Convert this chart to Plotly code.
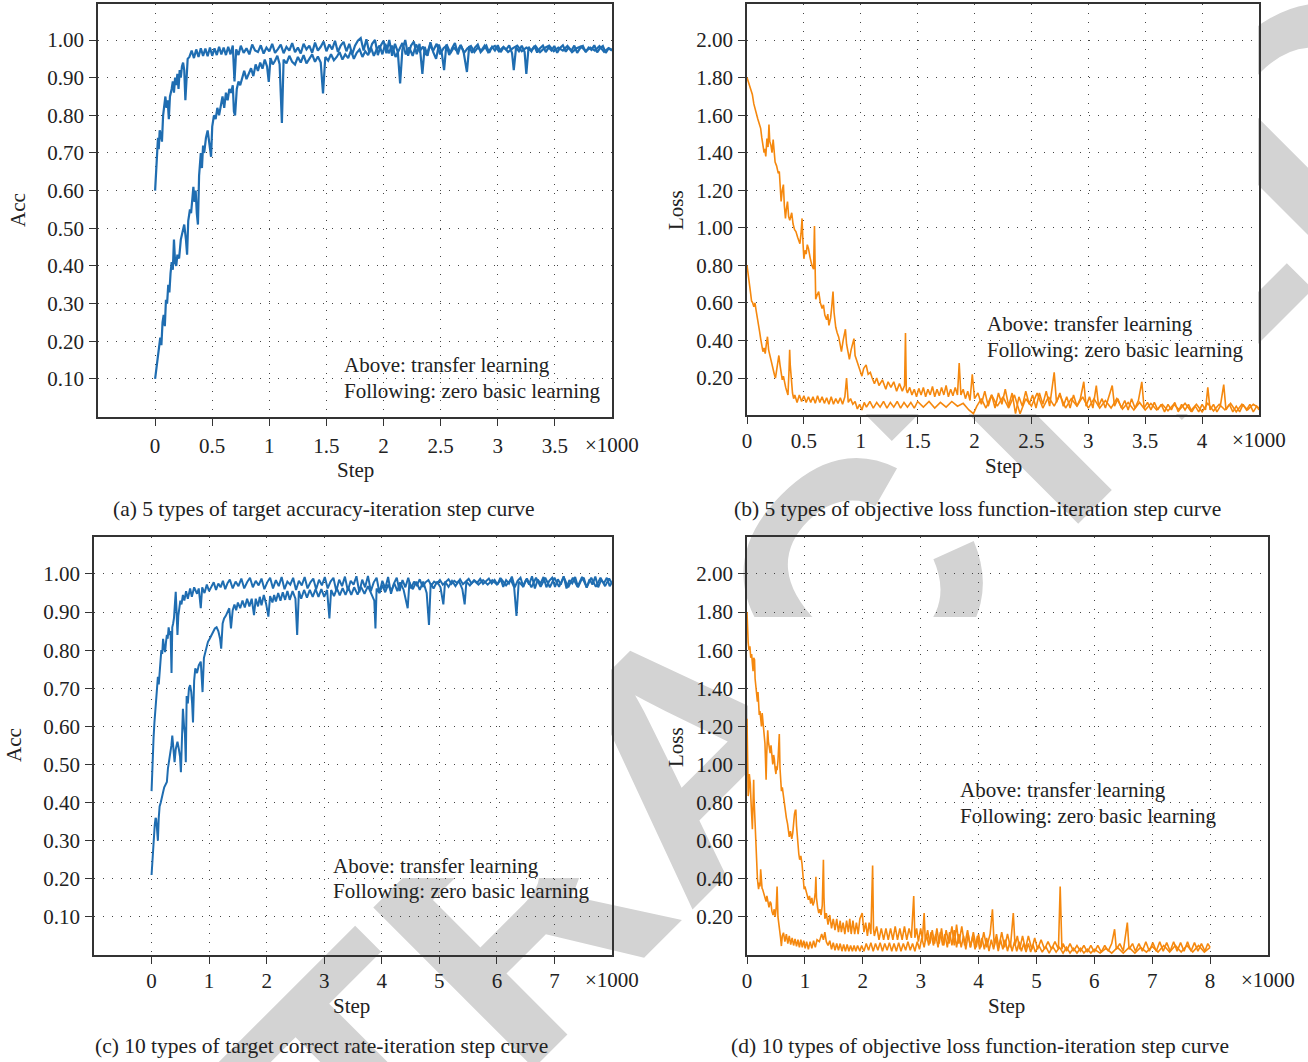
import base64
import plotly.graph_objects as go

W, H = 1308, 1062

# ---------------- data (steps in thousands) ----------------
a_transfer = [(0.000,0.60),(0.010,0.66),(0.016,0.70),(0.025,0.74),(0.032,0.71),(0.040,0.76),(0.050,0.75),(0.060,0.73),(0.070,0.80),(0.080,0.83),(0.090,0.85),(0.100,0.82),(0.110,0.84),(0.120,0.79),(0.130,0.85),(0.145,0.87),(0.155,0.89),(0.165,0.86),(0.175,0.90),(0.185,0.88),(0.195,0.91),(0.205,0.87),(0.215,0.92),(0.225,0.90),(0.235,0.93),(0.245,0.94),(0.255,0.92),(0.265,0.84),(0.275,0.91),(0.285,0.95),
    (0.300,0.955),(0.320,0.972),(0.340,0.952),(0.360,0.975),(0.380,0.955),(0.400,0.978),(0.420,0.958),(0.440,0.977),(0.460,0.957),(0.480,0.98),(0.500,0.958),(0.520,0.978),(0.540,0.96),(0.560,0.982),(0.580,0.962),(0.600,0.98),(0.620,0.96),(0.640,0.982),(0.660,0.962),(0.680,0.985),(0.695,0.89),(0.710,0.975),(0.730,0.96),
    (0.750,0.985),(0.775,0.966),(0.800,0.978),(0.825,0.962),(0.850,0.988),(0.875,0.972),(0.900,0.968),(0.925,0.986),(0.950,0.964),(0.975,0.980),(1.000,0.970),(1.025,0.990),(1.050,0.966),(1.075,0.976),(1.100,0.988),(1.125,0.965),(1.150,0.982),(1.175,0.972),(1.200,0.992),(1.225,0.968),(1.250,0.980),(1.275,0.964),(1.300,0.990),(1.325,0.975),(1.350,0.985),(1.375,0.966),(1.400,0.993),(1.425,0.972),(1.450,0.982),(1.475,0.996),(1.500,0.970),(1.525,0.988),(1.550,0.975),(1.575,0.998),(1.600,0.968),(1.625,0.985),(1.650,0.995),(1.675,0.970),(1.700,0.990),(1.725,0.962),(1.750,0.985),(1.775,0.998),(1.800,1.005),(1.825,0.972),(1.850,1.002),(1.875,0.966),(1.900,0.990),(1.925,1.000),(1.950,0.960),(1.975,0.985),(2.000,0.998),(2.025,0.965),(2.050,1.000),(2.075,0.958),(2.100,0.990),(2.125,0.968),(2.145,0.885),(2.165,0.975),(2.190,1.000),(2.215,0.958),(2.240,0.985),(2.265,0.996),(2.290,0.962),(2.315,0.990),(2.340,0.910),(2.360,0.982),(2.385,0.958),(2.410,0.994),(2.435,0.968),(2.460,0.950),(2.485,0.988),(2.510,0.965),(2.530,0.920),(2.550,0.988),(2.575,0.960),(2.600,0.978),(2.625,0.992),(2.650,0.962),(2.675,0.986),(2.700,0.970),(2.730,0.915),(2.750,0.984),(2.775,0.966),(2.800,0.980),(2.825,0.988),(2.850,0.968),(2.875,0.978),(2.900,0.985),(2.925,0.966),(2.950,0.982),(2.975,0.972),(3.000,0.986),(3.025,0.968),(3.050,0.980),(3.075,0.975),(3.100,0.986),(3.125,0.965),(3.140,0.920),(3.160,0.980),(3.185,0.970),(3.210,0.985),(3.235,0.968),(3.250,0.910),(3.270,0.982),(3.295,0.970),(3.320,0.984),(3.345,0.967),(3.370,0.978),(3.395,0.985),(3.420,0.968),(3.445,0.980),(3.470,0.972),(3.495,0.984),(3.520,0.966),(3.545,0.979),(3.570,0.986),(3.595,0.969),(3.620,0.980),(3.645,0.972),(3.670,0.985),(3.695,0.966),(3.720,0.978),(3.745,0.984),(3.770,0.968),(3.795,0.980),(3.820,0.974),(3.845,0.986),(3.870,0.967),(3.895,0.978),(3.920,0.984),(3.945,0.966),(3.970,0.978),(4.000,0.972)]

a_zero = [(0.000,0.10),(0.015,0.14),(0.030,0.18),(0.045,0.21),(0.055,0.19),(0.065,0.25),(0.075,0.27),(0.085,0.24),(0.095,0.31),(0.105,0.30),(0.115,0.35),(0.125,0.33),(0.135,0.38),(0.145,0.41),(0.155,0.39),(0.165,0.47),(0.175,0.41),(0.185,0.40),(0.195,0.43),(0.210,0.42),(0.225,0.47),(0.240,0.49),(0.255,0.51),(0.270,0.47),(0.280,0.43),(0.290,0.52),(0.305,0.55),(0.315,0.54),(0.325,0.58),(0.335,0.61),(0.345,0.57),(0.355,0.60),(0.365,0.54),(0.375,0.51),(0.385,0.64),(0.400,0.70),(0.410,0.66),(0.420,0.72),(0.430,0.70),(0.445,0.74),(0.460,0.76),(0.475,0.73),(0.490,0.69),(0.500,0.77),(0.515,0.80),(0.530,0.79),(0.545,0.82),(0.560,0.80),(0.575,0.83),(0.590,0.85),(0.605,0.82),(0.620,0.86),(0.635,0.84),(0.650,0.87),(0.665,0.86),(0.680,0.88),(0.690,0.81),(0.700,0.80),(0.715,0.87),(0.730,0.89),(0.745,0.88),
    (0.760,0.900),(0.780,0.918),(0.800,0.896),(0.820,0.912),(0.840,0.925),(0.860,0.904),(0.880,0.935),(0.900,0.918),(0.920,0.940),(0.940,0.924),(0.960,0.948),(0.980,0.930),(0.995,0.889),(1.010,0.952),(1.030,0.935),(1.050,0.945),(1.070,0.958),(1.090,0.936),(1.110,0.780),(1.125,0.948),(1.150,0.938),(1.175,0.958),(1.200,0.942),(1.225,0.935),(1.250,0.955),(1.275,0.940),(1.300,0.960),(1.325,0.938),(1.350,0.950),(1.375,0.962),(1.400,0.942),(1.425,0.956),(1.450,0.940),(1.470,0.858),(1.490,0.955),(1.515,0.945),(1.540,0.962),(1.565,0.946),(1.590,0.955),(1.615,0.968),(1.640,0.948),(1.665,0.962),(1.690,0.952),(1.715,0.972),(1.740,0.950),(1.765,0.966),(1.790,0.975),(1.815,0.955),(1.840,0.970),(1.865,0.960),(1.890,0.980),(1.915,0.958),(1.940,0.975),(1.965,0.985),(1.990,0.962),
    (2.015,0.990),(2.045,0.965),(2.075,0.985),(2.105,0.955),(2.135,0.975),(2.165,0.992),(2.195,0.962),(2.225,0.980),(2.255,0.958),(2.285,0.988),(2.315,0.970),(2.345,0.982),(2.375,0.960),(2.405,0.985),(2.435,0.972),(2.465,0.990),(2.495,0.962),(2.525,0.978),(2.555,0.986),(2.585,0.965),(2.615,0.980),(2.645,0.970),(2.675,0.987),(2.705,0.966),(2.735,0.978),(2.765,0.984),(2.795,0.968),(2.825,0.980),(2.855,0.972),(2.885,0.985),(2.915,0.968),(2.945,0.979),(2.975,0.984),(3.010,0.970),(3.050,0.982),(3.090,0.968),(3.130,0.978),(3.170,0.985),(3.210,0.970),(3.250,0.980),(3.290,0.972),(3.330,0.984),(3.370,0.968),(3.410,0.979),(3.450,0.985),(3.490,0.970),(3.530,0.980),(3.570,0.972),(3.610,0.984),(3.650,0.968),(3.690,0.978),(3.730,0.983),(3.770,0.970),(3.810,0.980),(3.850,0.972),(3.890,0.984),(3.930,0.969),(3.970,0.978),(4.000,0.974)]

b_transfer = [(0.000,0.80),(0.010,0.74),(0.020,0.70),(0.030,0.66),(0.040,0.61),(0.050,0.60),(0.060,0.58),(0.070,0.60),(0.080,0.56),(0.090,0.53),(0.100,0.50),(0.110,0.45),(0.120,0.41),(0.130,0.37),(0.140,0.34),(0.150,0.36),(0.160,0.33),(0.170,0.38),(0.180,0.42),(0.190,0.35),(0.200,0.32),(0.210,0.30),(0.220,0.28),(0.230,0.25),(0.240,0.22),(0.250,0.20),(0.260,0.24),(0.270,0.28),(0.280,0.32),(0.290,0.27),(0.300,0.22),(0.310,0.19),(0.320,0.21),(0.330,0.17),(0.340,0.15),(0.350,0.13),(0.360,0.11),(0.370,0.25),(0.375,0.35),(0.380,0.27),(0.390,0.18),(0.400,0.12),(0.410,0.09),(0.420,0.11),(0.440,0.07),(0.460,0.11),(0.480,0.075),(0.500,0.105),(0.520,0.07),(0.540,0.10),(0.560,0.07),(0.580,0.10),(0.600,0.065),(0.620,0.105),(0.640,0.07),(0.660,0.10),(0.680,0.065),(0.700,0.095),(0.720,0.06),(0.740,0.10),(0.760,0.06),(0.780,0.09),(0.800,0.065),(0.820,0.095),(0.840,0.06),(0.860,0.10),(0.875,0.20),(0.890,0.07),(0.910,0.09),(0.930,0.06),(0.950,0.075),(0.970,0.035),(0.990,0.06),(1.010,0.03),(1.030,0.07),(1.050,0.045),(1.080,0.075),(1.110,0.04),(1.140,0.07),(1.170,0.045),(1.200,0.075),(1.230,0.04),(1.260,0.07),(1.290,0.045),(1.320,0.075),(1.350,0.04),(1.380,0.07),(1.410,0.045),(1.440,0.07),(1.470,0.04),(1.500,0.075),(1.550,0.045),(1.600,0.075),(1.650,0.04),(1.700,0.07),(1.750,0.045),(1.800,0.075),(1.850,0.05),(1.900,0.065),(1.950,0.03),(1.990,0.01),
    (2.02,0.05),(2.06,0.09),(2.10,0.04),(2.15,0.11),(2.20,0.05),(2.25,0.10),(2.30,0.04),(2.35,0.11),(2.40,0.01),(2.45,0.09),(2.50,0.05),(2.55,0.12),(2.60,0.04),(2.65,0.10),(2.70,0.05),(2.75,0.11),(2.80,0.04),(2.85,0.09),(2.90,0.05),(2.95,0.10),(3.00,0.04),(3.05,0.09),(3.10,0.04),(3.15,0.08),(3.20,0.04),(3.25,0.09),(3.30,0.035),(3.35,0.07),(3.40,0.03),(3.45,0.07),(3.50,0.03),(3.55,0.065),(3.60,0.03),(3.65,0.06),(3.70,0.025),(3.75,0.06),(3.80,0.03),(3.85,0.065),(3.90,0.025),(3.95,0.06),(4.00,0.02),(4.05,0.065),(4.10,0.025),(4.15,0.06),(4.20,0.03),(4.25,0.065),(4.30,0.02),(4.35,0.06),(4.40,0.03),(4.45,0.06),(4.50,0.04)]

b_zero = [(0.000,1.80),(0.015,1.77),(0.030,1.74),(0.047,1.71),(0.060,1.66),(0.075,1.62),(0.084,1.61),(0.095,1.58),(0.105,1.56),(0.120,1.53),(0.130,1.48),(0.140,1.44),(0.150,1.40),(0.156,1.42),(0.165,1.38),(0.175,1.475),(0.185,1.43),(0.193,1.55),(0.200,1.46),(0.210,1.44),(0.220,1.40),(0.230,1.47),(0.240,1.38),(0.247,1.35),(0.260,1.33),(0.275,1.29),(0.284,1.30),(0.292,1.20),(0.300,1.14),(0.310,1.20),(0.320,1.23),(0.328,1.12),(0.338,1.05),(0.346,1.10),(0.356,1.14),(0.366,1.06),(0.376,1.04),(0.393,1.08),(0.405,1.02),(0.418,0.99),(0.430,0.98),(0.445,0.95),(0.458,0.93),(0.465,0.915),(0.475,0.97),(0.484,1.05),(0.492,0.92),(0.500,0.835),(0.510,0.88),(0.520,0.86),(0.530,0.91),(0.540,0.89),(0.555,0.84),(0.570,0.80),(0.585,0.78),(0.593,1.01),(0.600,0.75),(0.604,0.62),(0.615,0.64),(0.630,0.66),(0.645,0.60),(0.660,0.57),(0.672,0.59),(0.684,0.535),(0.700,0.51),(0.710,0.54),(0.720,0.48),(0.735,0.52),(0.745,0.58),(0.756,0.66),(0.765,0.55),(0.780,0.47),(0.793,0.44),(0.805,0.42),(0.818,0.38),(0.830,0.34),(0.845,0.40),(0.865,0.46),(0.875,0.38),(0.890,0.33),(0.900,0.30),(0.915,0.35),(0.930,0.38),(0.940,0.41),(0.950,0.32),(0.965,0.29),(0.975,0.27),(0.990,0.24),(1.010,0.21),(1.025,0.25),(1.047,0.27),(1.065,0.22),(1.084,0.23),(1.100,0.20),(1.120,0.17),(1.140,0.20),(1.160,0.16),(1.190,0.19),(1.220,0.14),(1.240,0.18),(1.265,0.15),(1.290,0.18),(1.315,0.13),(1.340,0.17),(1.365,0.13),(1.385,0.16),(1.393,0.44),(1.400,0.14),
    (1.410,0.12),(1.430,0.15),(1.450,0.11),(1.470,0.14),(1.490,0.10),(1.510,0.145),(1.530,0.11),(1.550,0.15),(1.570,0.10),(1.590,0.14),(1.610,0.11),(1.630,0.155),(1.650,0.10),(1.670,0.14),(1.690,0.105),(1.710,0.15),(1.730,0.11),(1.750,0.16),(1.770,0.10),(1.790,0.14),(1.810,0.105),(1.830,0.15),(1.850,0.11),(1.865,0.28),(1.880,0.11),(1.900,0.14),(1.920,0.09),(1.940,0.13),(1.960,0.08),(1.980,0.22),(2.000,0.09),
    (2.03,0.12),(2.06,0.06),(2.09,0.13),(2.12,0.05),(2.15,0.11),(2.18,0.04),(2.21,0.12),(2.24,0.06),(2.27,0.14),(2.30,0.05),(2.33,0.12),(2.36,0.01),(2.39,0.10),(2.42,0.05),(2.45,0.13),(2.48,0.06),(2.51,0.11),(2.54,0.04),(2.57,0.12),(2.60,0.06),(2.63,0.13),(2.66,0.05),(2.70,0.23),(2.72,0.07),(2.75,0.12),(2.78,0.05),(2.81,0.10),(2.84,0.04),(2.87,0.11),(2.90,0.05),(2.93,0.09),(2.96,0.18),(2.98,0.05),(3.01,0.10),(3.04,0.04),(3.07,0.16),(3.09,0.05),(3.12,0.09),(3.15,0.04),(3.18,0.10),(3.21,0.16),(3.23,0.05),(3.26,0.09),(3.29,0.04),(3.32,0.08),(3.35,0.03),(3.38,0.09),(3.41,0.04),(3.44,0.08),(3.47,0.18),(3.49,0.04),(3.52,0.07),(3.55,0.03),(3.58,0.07),(3.61,0.03),(3.64,0.06),(3.67,0.02),(3.70,0.06),(3.73,0.03),(3.76,0.07),(3.79,0.02),(3.82,0.06),(3.85,0.03),(3.88,0.06),(3.91,0.02),(3.94,0.05),(3.97,0.02),(4.00,0.06),(4.03,0.03),(4.05,0.15),(4.07,0.03),(4.10,0.06),(4.13,0.02),(4.16,0.05),(4.19,0.165),(4.21,0.03),(4.24,0.06),(4.27,0.02),(4.30,0.05),(4.33,0.02),(4.36,0.06),(4.39,0.03),(4.42,0.06),(4.45,0.02),(4.48,0.05),(4.50,0.03)]

c_transfer = [(0.000,0.43),(0.010,0.48),(0.020,0.52),(0.035,0.57),(0.050,0.61),(0.065,0.64),(0.080,0.66),(0.095,0.70),(0.110,0.73),(0.125,0.71),(0.140,0.75),(0.155,0.78),(0.170,0.80),(0.185,0.79),(0.200,0.83),(0.215,0.81),(0.235,0.795),(0.250,0.82),(0.266,0.84),(0.280,0.83),(0.297,0.86),(0.315,0.84),(0.330,0.85),(0.347,0.74),(0.360,0.86),(0.375,0.87),(0.390,0.885),(0.405,0.92),(0.420,0.953),(0.435,0.90),(0.450,0.84),(0.465,0.89),(0.480,0.91),(0.500,0.93),(0.520,0.92),(0.545,0.945),(0.570,0.93),(0.600,0.955),(0.630,0.935),(0.670,0.962),(0.700,0.94),(0.740,0.965),(0.790,0.948),
    (0.820,0.962),(0.855,0.910),(0.880,0.965),(0.920,0.950),(0.960,0.972),(1.000,0.955),(1.040,0.968),(1.080,0.978),(1.120,0.958),(1.160,0.975),(1.200,0.965),(1.240,0.982),(1.280,0.960),(1.320,0.976),(1.360,0.985),(1.410,0.962),(1.460,0.980),(1.510,0.968),(1.560,0.988),(1.610,0.962),(1.660,0.978),(1.710,0.990),(1.760,0.965),(1.810,0.982),(1.860,0.970),(1.910,0.988),(1.960,0.960),(2.010,0.978),(2.060,0.990),(2.110,0.962),(2.160,0.984),(2.210,0.968),(2.260,0.992),(2.310,0.960),(2.360,0.980),(2.410,0.972),(2.460,0.990),(2.510,0.958),(2.560,0.982),(2.610,0.970),(2.660,0.992),(2.710,0.962),(2.760,0.978),(2.810,0.988),(2.860,0.960),(2.910,0.985),(2.960,0.970),(3.010,0.992),(3.060,0.962),(3.110,0.980),(3.160,0.990),(3.210,0.955),(3.260,0.985),(3.310,0.968),(3.360,0.993),(3.410,0.956),(3.460,0.982),(3.510,0.972),(3.560,0.994),(3.610,0.952),(3.660,0.985),(3.710,0.965),(3.760,0.995),(3.810,0.955),(3.860,0.978),(3.910,0.990),(3.960,0.950),(4.010,0.982),(4.060,0.962),(4.110,0.992),(4.160,0.948),(4.210,0.975),(4.260,0.990),(4.310,0.955),(4.360,0.984),(4.410,0.965),(4.460,0.990),(4.510,0.962),(4.560,0.980),(4.610,0.970),(4.660,0.986),(4.710,0.966),(4.760,0.978),(4.810,0.984),(4.860,0.970),(4.910,0.980),(4.960,0.975),(5.010,0.984),(5.060,0.972),(5.110,0.980),(5.160,0.986),(5.210,0.974),(5.260,0.982),(5.310,0.976),(5.360,0.986),(5.410,0.973),(5.460,0.981),(5.510,0.987),(5.560,0.975),(5.610,0.983),(5.660,0.977),(5.710,0.987),(5.760,0.974),(5.810,0.982),(5.860,0.988),(5.910,0.975),(5.960,0.984),(6.010,0.972),(6.060,0.990),(6.110,0.966),(6.160,0.984),(6.210,0.975),(6.260,0.993),(6.310,0.965),(6.360,0.982),(6.410,0.990),(6.460,0.966),(6.510,0.986),(6.560,0.972),(6.610,0.994),(6.660,0.962),(6.710,0.985),(6.760,0.975),(6.810,0.992),(6.860,0.965),(6.910,0.982),(6.960,0.990),(7.010,0.966),(7.060,0.986),(7.110,0.972),(7.160,0.994),(7.210,0.962),(7.260,0.984),(7.310,0.975),(7.360,0.992),(7.410,0.965),(7.460,0.982),(7.510,0.990),(7.560,0.964),(7.610,0.986),(7.660,0.972),(7.710,0.993),(7.760,0.965),(7.810,0.984),(7.860,0.976),(7.910,0.990),(7.960,0.968),(8.000,0.978)]

c_zero = [(0.000,0.21),(0.015,0.25),(0.030,0.29),(0.040,0.30),(0.055,0.34),(0.070,0.36),(0.080,0.357),(0.095,0.33),(0.110,0.30),(0.125,0.36),(0.140,0.39),(0.160,0.40),(0.180,0.42),(0.200,0.427),(0.220,0.44),(0.245,0.45),(0.266,0.454),(0.285,0.49),(0.305,0.51),(0.330,0.524),(0.345,0.55),(0.360,0.576),(0.380,0.53),(0.400,0.506),(0.420,0.54),(0.450,0.56),(0.475,0.54),(0.495,0.52),(0.510,0.48),(0.525,0.58),(0.545,0.646),(0.565,0.60),(0.580,0.58),(0.595,0.506),(0.610,0.68),(0.630,0.66),(0.650,0.70),(0.670,0.708),(0.690,0.69),(0.705,0.66),(0.720,0.61),(0.740,0.72),(0.760,0.752),(0.790,0.74),(0.820,0.76),(0.855,0.77),(0.870,0.74),(0.886,0.69),(0.910,0.78),(0.940,0.80),(0.960,0.81),(0.980,0.822),(1.010,0.83),(1.040,0.84),(1.070,0.85),(1.100,0.857),(1.130,0.86),(1.160,0.85),(1.190,0.83),(1.210,0.804),(1.235,0.87),(1.260,0.883),(1.290,0.89),(1.320,0.90),(1.350,0.91),(1.380,0.857),(1.410,0.905),(1.440,0.92),(1.470,0.905),(1.500,0.925),(1.540,0.91),(1.580,0.93),(1.620,0.912),(1.660,0.935),(1.700,0.915),(1.740,0.935),(1.780,0.892),(1.810,0.935),(1.850,0.915),(1.880,0.94),(1.910,0.918),(1.950,0.945),(1.990,0.922),(2.030,0.888),(2.060,0.942),(2.100,0.925),(2.130,0.945),(2.160,0.928),(2.200,0.95),(2.240,0.93),(2.280,0.952),(2.320,0.932),(2.360,0.955),(2.400,0.932),(2.450,0.955),(2.500,0.935),(2.530,0.84),(2.560,0.955),(2.600,0.935),(2.650,0.958),(2.700,0.938),(2.750,0.958),(2.800,0.94),(2.850,0.96),(2.900,0.94),(2.950,0.96),(3.000,0.94),(3.050,0.958),(3.090,0.883),(3.120,0.958),(3.170,0.942),(3.220,0.962),(3.270,0.944),(3.320,0.963),(3.370,0.945),(3.420,0.964),(3.470,0.945),(3.520,0.965),(3.580,0.946),(3.640,0.966),(3.700,0.948),(3.760,0.968),(3.820,0.948),(3.870,0.93),(3.890,0.857),(3.910,0.962),(3.960,0.95),(4.010,0.97),(4.060,0.952),(4.110,0.972),(4.160,0.955),(4.220,0.975),(4.270,0.955),(4.320,0.978),(4.380,0.958),(4.450,0.91),(4.480,0.978),(4.540,0.96),(4.600,0.98),(4.660,0.958),(4.720,0.98),(4.780,0.95),(4.820,0.866),(4.850,0.975),(4.900,0.962),(4.960,0.98),(5.020,0.965),(5.070,0.92),(5.100,0.98),(5.160,0.966),(5.220,0.982),(5.280,0.968),(5.340,0.982),(5.400,0.96),(5.440,0.92),(5.470,0.98),(5.530,0.97),(5.600,0.983),(5.680,0.972),(5.760,0.984),(5.840,0.972),(5.920,0.984),(6.000,0.972),(6.080,0.986),(6.160,0.97),(6.240,0.985),(6.300,0.965),(6.340,0.89),(6.380,0.98),(6.450,0.968),(6.520,0.988),(6.600,0.965),(6.680,0.99),(6.760,0.966),(6.840,0.99),(6.920,0.965),(7.000,0.99),(7.080,0.966),(7.160,0.992),(7.240,0.965),(7.320,0.99),(7.400,0.966),(7.480,0.992),(7.560,0.965),(7.640,0.99),(7.720,0.966),(7.800,0.99),(7.880,0.968),(7.950,0.988),(8.000,0.975)]

d_transfer = [(0.000,1.24),(0.008,1.05),(0.015,0.88),(0.020,0.834),(0.030,0.86),(0.040,0.95),(0.050,0.92),(0.057,0.90),(0.070,0.80),(0.080,0.72),(0.093,0.66),(0.105,0.80),(0.115,0.92),(0.122,0.82),(0.130,0.75),(0.145,0.62),(0.155,0.55),(0.165,0.48),(0.180,0.40),(0.190,0.37),(0.200,0.345),(0.215,0.38),(0.225,0.36),(0.236,0.45),(0.250,0.37),(0.260,0.35),(0.270,0.345),(0.290,0.32),(0.310,0.30),(0.330,0.28),(0.343,0.31),(0.360,0.27),(0.380,0.25),(0.400,0.28),(0.415,0.27),(0.430,0.23),(0.450,0.21),(0.470,0.24),(0.487,0.20),(0.505,0.25),(0.520,0.36),(0.535,0.20),(0.550,0.17),(0.565,0.12),(0.580,0.09),(0.594,0.047),(0.610,0.10),(0.630,0.117),(0.655,0.07),(0.680,0.11),(0.705,0.06),(0.730,0.10),(0.755,0.055),(0.780,0.09),(0.805,0.05),(0.830,0.085),(0.855,0.045),(0.880,0.08),(0.905,0.04),(0.930,0.08),(0.955,0.04),(0.980,0.075),(1.005,0.035),(1.030,0.07),(1.060,0.03),(1.090,0.07),(1.120,0.035),(1.150,0.075),(1.180,0.04),(1.210,0.08),(1.250,0.07),(1.290,0.11),(1.320,0.08),(1.345,0.12),(1.370,0.07),(1.400,0.05),(1.430,0.075),(1.460,0.03),(1.490,0.065),(1.520,0.025),(1.550,0.06),(1.580,0.025),(1.610,0.06),(1.640,0.02),(1.670,0.055),(1.700,0.02),(1.730,0.055),(1.760,0.02),(1.790,0.05),(1.820,0.02),(1.850,0.05),(1.880,0.02),(1.910,0.05),(1.950,0.02),(1.980,0.05),
    (2.02,0.02),(2.06,0.06),(2.10,0.025),(2.14,0.065),(2.18,0.02),(2.22,0.06),(2.26,0.025),(2.30,0.065),(2.34,0.02),(2.38,0.06),(2.42,0.025),(2.46,0.065),(2.50,0.02),(2.54,0.06),(2.58,0.02),(2.62,0.065),(2.66,0.02),(2.70,0.06),(2.74,0.025),(2.78,0.07),(2.82,0.025),(2.86,0.06),(2.90,0.02),(2.94,0.07),(2.98,0.03),(3.02,0.09),(3.06,0.04),(3.10,0.11),(3.14,0.05),(3.18,0.12),(3.22,0.05),(3.26,0.11),(3.30,0.04),(3.34,0.12),(3.38,0.05),(3.42,0.11),(3.46,0.04),(3.50,0.12),(3.54,0.05),(3.58,0.13),(3.62,0.04),(3.66,0.11),(3.70,0.04),(3.74,0.10),(3.78,0.03),(3.82,0.11),(3.86,0.04),(3.90,0.10),(3.94,0.03),(3.98,0.10),(4.02,0.03),(4.06,0.09),(4.10,0.03),(4.14,0.09),(4.18,0.02),(4.22,0.08),(4.26,0.03),(4.30,0.09),(4.34,0.02),(4.38,0.08),(4.42,0.03),(4.46,0.08),(4.50,0.02),(4.54,0.07),(4.58,0.02),(4.62,0.07),(4.66,0.02),(4.70,0.07),(4.74,0.02),(4.78,0.06),(4.82,0.015),(4.86,0.06),(4.90,0.015),(4.94,0.055),(4.98,0.015),(5.04,0.05),(5.10,0.015),(5.16,0.045),(5.22,0.01),(5.28,0.045),(5.34,0.015),(5.40,0.04),(5.46,0.01),(5.52,0.04),(5.58,0.01),(5.64,0.035),(5.70,0.01),(5.76,0.035),(5.82,0.01),(5.88,0.03),(5.94,0.01),(6.00,0.03),(6.10,0.01),(6.20,0.035),(6.30,0.01),(6.40,0.04),(6.50,0.01),(6.60,0.04),(6.70,0.01),(6.80,0.04),(6.90,0.015),(7.00,0.045),(7.10,0.015),(7.20,0.05),(7.30,0.015),(7.40,0.05),(7.50,0.015),(7.60,0.05),(7.70,0.015),(7.80,0.05),(7.90,0.015),(8.00,0.04)]

d_zero = [(0.000,1.80),(0.010,1.70),(0.020,1.64),(0.035,1.60),(0.050,1.62),(0.065,1.56),(0.080,1.58),(0.093,1.53),(0.105,1.49),(0.115,1.56),(0.130,1.55),(0.140,1.45),(0.152,1.40),(0.165,1.36),(0.180,1.33),(0.190,1.38),(0.200,1.30),(0.212,1.26),(0.224,1.28),(0.236,1.24),(0.250,1.20),(0.262,1.27),(0.275,1.22),(0.290,1.15),(0.300,1.13),(0.310,1.11),(0.320,1.02),(0.330,0.92),(0.340,1.05),(0.350,1.12),(0.358,1.18),(0.370,1.12),(0.385,1.08),(0.400,1.06),(0.415,1.10),(0.430,1.04),(0.445,1.00),(0.460,1.05),(0.472,1.03),(0.485,0.98),(0.500,0.95),(0.510,0.99),(0.520,0.97),(0.535,1.02),(0.548,1.10),(0.558,1.16),(0.570,0.98),(0.580,0.90),(0.595,0.86),(0.610,0.88),(0.630,0.83),(0.650,0.78),(0.665,0.74),(0.680,0.72),(0.700,0.69),(0.715,0.66),(0.730,0.62),(0.750,0.65),(0.773,0.61),(0.790,0.64),(0.805,0.70),(0.820,0.74),(0.835,0.76),(0.844,0.76),(0.855,0.68),(0.870,0.60),(0.880,0.555),(0.895,0.53),(0.910,0.50),(0.930,0.52),(0.950,0.48),(0.965,0.42),(0.975,0.38),(0.987,0.345),(1.000,0.36),(1.020,0.33),(1.040,0.31),(1.060,0.29),(1.080,0.31),(1.100,0.27),(1.120,0.30),(1.140,0.26),(1.160,0.28),(1.180,0.33),(1.190,0.41),(1.200,0.30),(1.220,0.25),(1.240,0.22),(1.260,0.24),(1.280,0.21),(1.300,0.26),(1.310,0.38),(1.320,0.50),(1.330,0.30),(1.345,0.19),(1.370,0.22),(1.400,0.16),(1.430,0.21),(1.460,0.14),(1.490,0.19),(1.520,0.13),(1.550,0.19),(1.580,0.12),(1.610,0.18),(1.630,0.12),(1.660,0.17),(1.690,0.11),(1.720,0.18),(1.750,0.12),(1.775,0.19),(1.800,0.11),(1.830,0.18),(1.860,0.11),(1.890,0.17),(1.920,0.11),(1.950,0.19),(1.990,0.22),(2.020,0.12),(2.050,0.17),(2.080,0.10),(2.110,0.17),(2.140,0.11),(2.170,0.47),(2.185,0.14),(2.200,0.10),(2.240,0.15),(2.280,0.08),(2.320,0.14),(2.360,0.08),(2.400,0.14),(2.440,0.08),(2.480,0.14),(2.520,0.08),(2.560,0.15),(2.600,0.08),(2.640,0.14),(2.680,0.08),(2.720,0.15),(2.760,0.08),(2.800,0.14),(2.840,0.09),(2.880,0.31),(2.900,0.09),(2.930,0.14),(2.960,0.07),(3.000,0.14),(3.030,0.08),(3.060,0.22),(3.080,0.07),(3.120,0.13),(3.160,0.06),(3.200,0.13),(3.240,0.06),(3.280,0.14),(3.320,0.06),(3.360,0.14),(3.400,0.05),(3.440,0.13),(3.490,0.06),(3.540,0.15),(3.580,0.05),(3.620,0.16),(3.660,0.06),(3.710,0.15),(3.760,0.05),(3.810,0.13),(3.860,0.04),(3.910,0.12),(3.960,0.04),(4.000,0.11),(4.040,0.04),(4.090,0.12),(4.140,0.04),(4.200,0.11),(4.240,0.24),(4.270,0.05),(4.310,0.11),(4.350,0.04),(4.400,0.12),(4.450,0.04),(4.500,0.11),(4.550,0.04),(4.600,0.22),(4.630,0.05),(4.670,0.10),(4.710,0.03),(4.760,0.10),(4.810,0.03),(4.860,0.10),(4.920,0.03),(4.970,0.09),(5.020,0.03),(5.080,0.08),(5.140,0.03),(5.200,0.07),(5.260,0.03),(5.320,0.07),(5.380,0.03),(5.410,0.36),(5.440,0.03),(5.460,0.06),(5.520,0.02),(5.580,0.06),(5.640,0.02),(5.700,0.05),(5.760,0.02),(5.820,0.05),(5.880,0.015),(5.940,0.05),(6.000,0.015),(6.060,0.05),(6.120,0.015),(6.180,0.05),(6.240,0.02),(6.300,0.06),(6.350,0.135),(6.380,0.03),(6.440,0.06),(6.500,0.02),(6.570,0.17),(6.600,0.03),(6.660,0.06),(6.710,0.02),(6.770,0.06),(6.830,0.02),(6.890,0.07),(6.950,0.02),(7.010,0.065),(7.070,0.02),(7.130,0.07),(7.190,0.02),(7.250,0.065),(7.310,0.02),(7.370,0.07),(7.430,0.02),(7.490,0.065),(7.550,0.02),(7.610,0.07),(7.670,0.02),(7.730,0.065),(7.790,0.02),(7.850,0.06),(7.910,0.02),(7.960,0.06),(8.000,0.04)]

a_xticks = [0, 0.5, 1, 1.5, 2, 2.5, 3, 3.5]
b_xticks = [0, 0.5, 1, 1.5, 2, 2.5, 3, 3.5, 4]
c_xticks = [0, 1, 2, 3, 4, 5, 6, 7]
d_xticks = [0, 1, 2, 3, 4, 5, 6, 7, 8]
acc_ticks = [0.1, 0.2, 0.3, 0.4, 0.5, 0.6, 0.7, 0.8, 0.9, 1.0]
loss_ticks = [0.2, 0.4, 0.6, 0.8, 1.0, 1.2, 1.4, 1.6, 1.8, 2.0]

captions = ["(a) 5 types of target accuracy-iteration step curve",
            "(b) 5 types of objective loss function-iteration step curve",
            "(c) 10 types of target correct rate-iteration step curve",
            "(d) 10 types of objective loss function-iteration step curve"]
note_above = "Above: transfer learning"
note_below = "Following: zero basic learning"

BLUE = "#1f6db1"
ORANGE = "#f5880e"
FONT = "Liberation Serif, Times New Roman, serif"
TXT = "#222222"

# ---------------- panel geometry (pixels) ----------------
panels = [
    dict(k="", box=(98, 4, 612, 417), xr=[-0.5, 4.0], yr=[-0.001, 1.0956],
         series=[a_transfer, a_zero], color=BLUE, lw=2.2, xt=a_xticks, yt=acc_ticks, yl="Acc",
         ylab=(18, 210), step=(355, 470), x1000=(612, 445), cap=(324, 509), note=(342, 365, 391), xstand=2),
    dict(k="2", box=(747, 4, 1259, 415), xr=[0, 4.5], yr=[0.003, 2.192],
         series=[b_transfer, b_zero], color=ORANGE, lw=1.6, xt=b_xticks, yt=loss_ticks, yl="Loss",
         ylab=(676, 210), step=(1003, 466), x1000=(1259, 440), cap=(977, 509), note=(985, 324, 350), xstand=-1),
    dict(k="3", box=(94, 537, 612, 955), xr=[-1, 8.0], yr=[0.0, 1.097],
         series=[c_transfer, c_zero], color=BLUE, lw=2.0, xt=c_xticks, yt=acc_ticks, yl="Acc",
         ylab=(14, 745), step=(352, 1006), x1000=(612, 980), cap=(321, 1046), note=(331, 866, 891), xstand=-1),
    dict(k="4", box=(747, 537, 1268, 955), xr=[0, 9.0], yr=[0.0, 2.194],
         series=[d_transfer, d_zero], color=ORANGE, lw=1.6, xt=d_xticks, yt=loss_ticks, yl="Loss",
         ylab=(676, 747), step=(1007, 1006), x1000=(1268, 980), cap=(980, 1046), note=(958, 790, 816), xstand=-1),
]

def fx(p):
    return p / W

def fy(p):
    return 1 - p / H

fig = go.Figure()
annotations = []
names = ["Transfer learning", "Zero basic learning"]

for i, p in enumerate(panels):
    k = p["k"]
    l, t, r, b = p["box"]
    for s, nm in zip(p["series"], names):
        fig.add_trace(go.Scatter(x=[v[0] for v in s], y=[v[1] for v in s], mode="lines", name=nm,
                                 showlegend=False, line=dict(color=p["color"], width=p["lw"]),
                                 xaxis="x" + k, yaxis="y" + k, hoverinfo="skip"))
    axcommon = dict(showline=True, mirror=True, linecolor="#333333", linewidth=1.5,
                    ticks="outside", ticklen=7, tickwidth=1.3, tickcolor="#333333",
                    showgrid=True, gridcolor="#444444", gridwidth=1.3, griddash="1.4px,7.6px",
                    zeroline=False, tickfont=dict(family=FONT, size=21, color=TXT),
                    fixedrange=True, automargin=False)
    fig.update_layout(**{
        "xaxis" + k: dict(domain=[fx(l), fx(r)], range=p["xr"], anchor="y" + k,
                          tickmode="array", tickvals=p["xt"], ticktext=["%g" % v for v in p["xt"]],
                          ticklabelstandoff=p["xstand"], **axcommon),
        "yaxis" + k: dict(domain=[fy(b), fy(t)], range=p["yr"], anchor="x" + k,
                          tickmode="array", tickvals=p["yt"], ticktext=["%.2f" % v for v in p["yt"]],
                          ticklabelstandoff=1, **axcommon),
    })
    f = dict(family=FONT, size=21, color=TXT)
    annotations.append(dict(text=p["yl"], x=fx(p["ylab"][0]), y=fy(p["ylab"][1]), xref="paper", yref="paper",
                            textangle=-90, showarrow=False, font=f, xanchor="center", yanchor="middle"))
    annotations.append(dict(text="Step", x=fx(p["step"][0]), y=fy(p["step"][1]), xref="paper", yref="paper",
                            showarrow=False, font=f, xanchor="center", yanchor="middle"))
    annotations.append(dict(text="×1000", x=fx(p["x1000"][0]), y=fy(p["x1000"][1]), xref="paper", yref="paper",
                            showarrow=False, font=f, xanchor="center", yanchor="middle"))
    annotations.append(dict(text=captions[i], x=fx(p["cap"][0]), y=fy(p["cap"][1]),
                            xref="paper", yref="paper", showarrow=False,
                            font=dict(family=FONT, size=21.5, color=TXT),
                            xanchor="center", yanchor="middle"))
    nx, ny1, ny2 = p["note"]
    for txt, ny in ((note_above, ny1), (note_below, ny2)):
        annotations.append(dict(text=txt, x=fx(nx), y=fy(ny), xref="paper", yref="paper",
                                showarrow=False, font=dict(family=FONT, size=21, color=TXT),
                                xanchor="left", yanchor="middle"))

# ---------------- watermark (behind everything) ----------------
wm_cx, wm_cy, wm_angle, wm_size = 690, 750, -45, 330
occluders = [(99, 5, 512, 411), (748, 5, 510, 409), (95, 538, 516, 340), (748, 617, 519, 337)]
rects = "".join('<rect x="%d" y="%d" width="%d" height="%d" fill="#ffffff"/>' % o for o in occluders)
svg = ('<svg xmlns="http://www.w3.org/2000/svg" width="%d" height="%d" viewBox="0 0 %d %d">'
       '<text x="%d" y="%d" text-anchor="middle" dominant-baseline="central" '
       'transform="rotate(%d %d %d)" font-family="Liberation Sans, Arial, sans-serif" '
       'font-weight="bold" font-size="%d" fill="#d3d3d3">RETRACTED</text>%s</svg>'
       % (W, H, W, H, wm_cx, wm_cy, wm_angle, wm_cx, wm_cy, wm_size, rects))
src = "data:image/svg+xml;base64," + base64.b64encode(svg.encode("utf-8")).decode("ascii")
fig.add_layout_image(dict(source=src, xref="paper", yref="paper", x=0, y=1, sizex=1, sizey=1,
                          xanchor="left", yanchor="top", sizing="stretch", layer="below"))

fig.update_layout(width=W, height=H, autosize=False,
                  margin=dict(l=0, r=0, t=0, b=0, pad=0),
                  paper_bgcolor="white", plot_bgcolor="rgba(0,0,0,0)",
                  annotations=annotations, showlegend=False)

fig.write_html("out.html", config={"displayModeBar": False})
